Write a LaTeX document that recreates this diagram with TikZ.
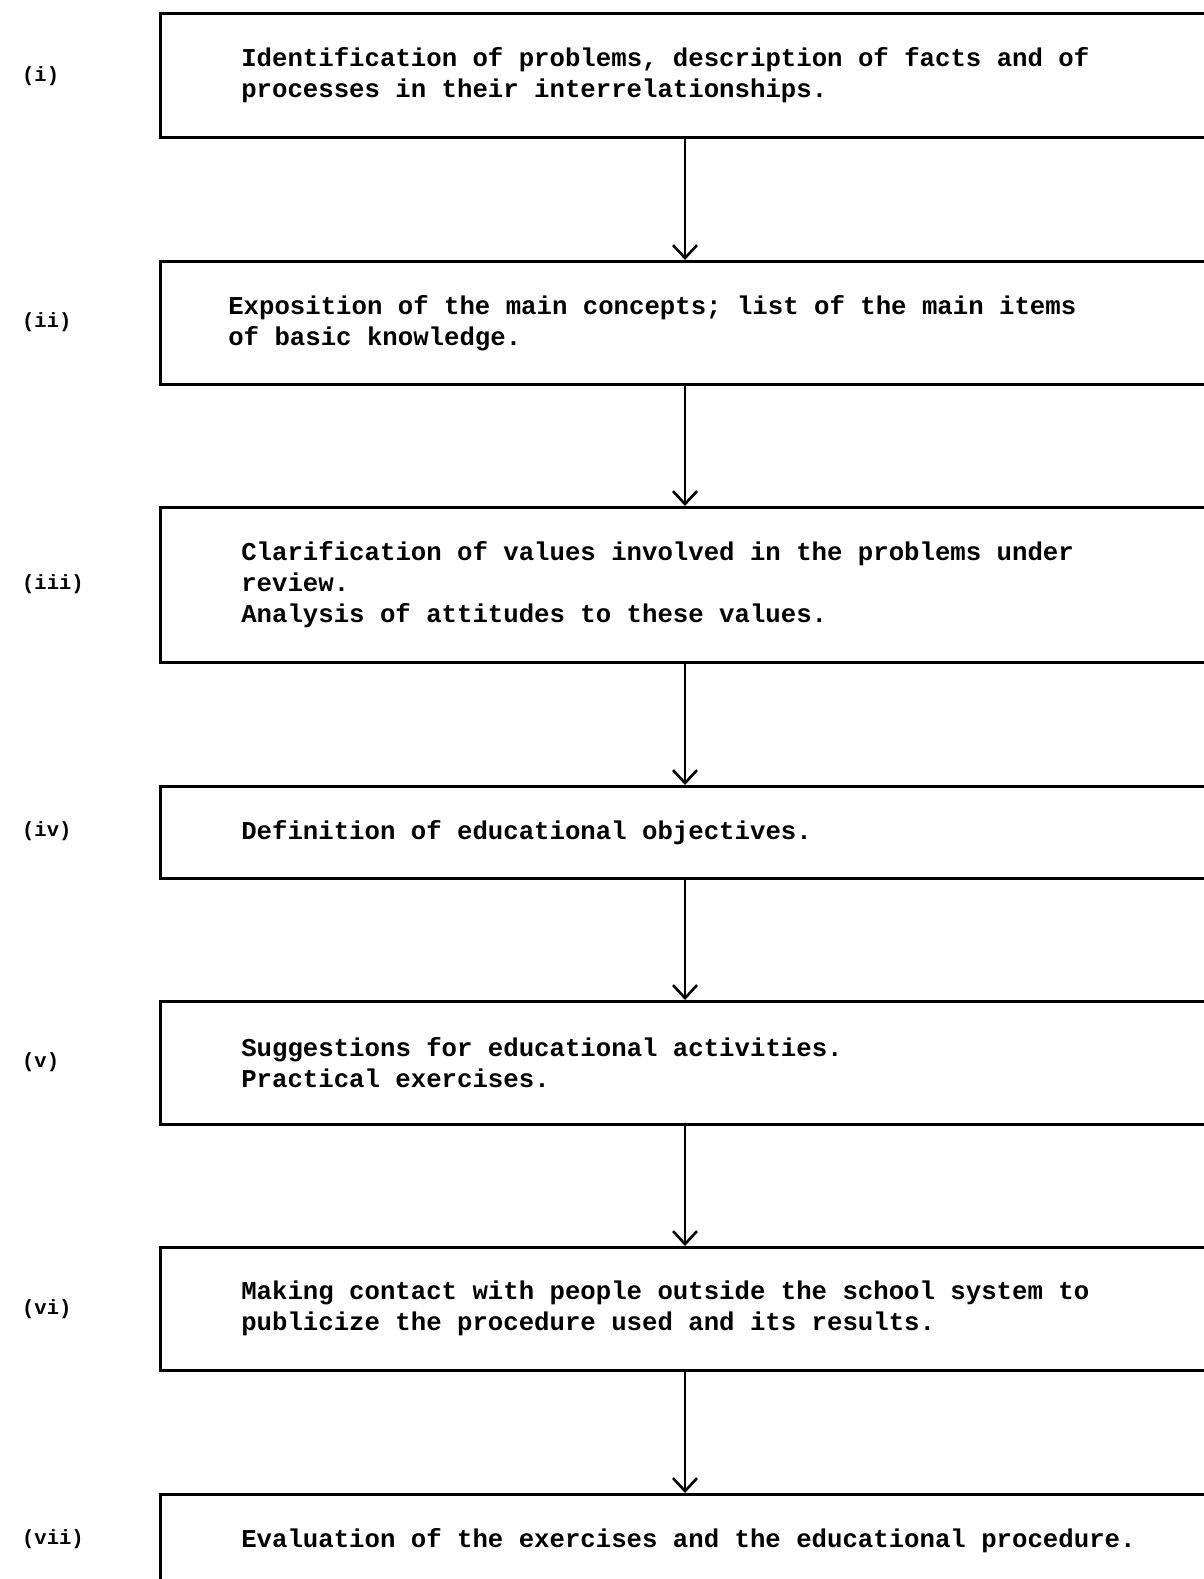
\documentclass[tikz,border=0pt]{standalone}
\usepackage{fontspec}
\setmonofont{Liberation Mono}
\usetikzlibrary{arrows.meta}
\newcommand{\monospaces}{\spaceskip=15.4pt\relax\xspaceskip=15.4pt\relax}

\begin{document}
\begin{tikzpicture}[
        x=1pt, y=-1pt,
        font=\ttfamily\bfseries,
        % Styles
        stage/.style={rectangle, draw=black, line width=2.6pt, anchor=north west, align=left,
            inner xsep=81pt, inner ysep=0pt, text width=909pt,
            font=\ttfamily\bfseries\fontsize{25.7}{31}\selectfont, execute at begin node=\monospaces},
        tag/.style={anchor=west, inner sep=0pt, font=\ttfamily\bfseries\fontsize{20.5}{24}\selectfont},
        flow/.style={line width=2.8pt, -{Straight Barb[length=13pt, width=24pt, line width=2.6pt]}}
    ]
    \useasboundingbox (0,0) rectangle (1204,1579);
    \clip (0,0) rectangle (1204,1579);

    % ================= STAGE BOXES =================
    \node[stage, minimum height=124pt] (b1) at (159,12) {Identification of problems, description of facts and of\\processes in their interrelationships.};
    \node[stage, minimum height=123pt, inner xsep=68pt, text width=935pt] (b2) at (159,260) {Exposition of the main concepts; list of the main items\\of basic knowledge.};
    \node[stage, minimum height=155pt] (b3) at (159,506) {Clarification of values involved in the problems under\\review.\\Analysis of attitudes to these values.};
    \node[stage, minimum height=92pt] (b4) at (159,785) {Definition of educational objectives.};
    \node[stage, minimum height=123pt] (b5) at (159,1000) {Suggestions for educational activities.\\Practical exercises.};
    \node[stage, minimum height=123pt] (b6) at (159,1246) {Making contact with people outside the school system to\\publicize the procedure used and its results.};
    \node[stage, minimum height=92pt] (b7) at (159,1493) {Evaluation of the exercises and the educational procedure.};

    % ================= STAGE NUMBERS =================
    \node[tag] (l1) at (22,76) {(i)};
    \node[tag] (l2) at (22,322) {(ii)};
    \node[tag] (l3) at (22,584) {(iii)};
    \node[tag] (l4) at (22,831) {(iv)};
    \node[tag] (l5) at (22,1062) {(v)};
    \node[tag] (l6) at (22,1309) {(vi)};
    \node[tag] (l7) at (22,1539) {(vii)};

    % ================= ARROWS =================
    % all arrows run down the same vertical line
    \coordinate (ax) at (685,0);
    \foreach \a/\b in {b1/b2, b2/b3, b3/b4, b4/b5, b5/b6, b6/b7}
        \draw[flow] (\a.south -| ax) -- (\b.north -| ax);

\end{tikzpicture}
\end{document}
